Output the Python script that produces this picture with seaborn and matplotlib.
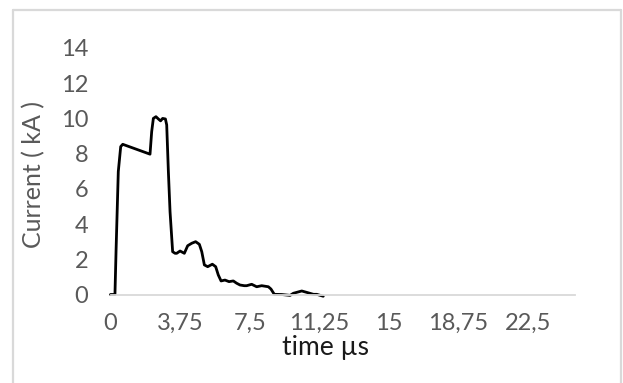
import matplotlib
matplotlib.use("Agg")
import matplotlib.pyplot as plt
from matplotlib.lines import Line2D
import numpy as np
import pandas as pd
import seaborn as sns

# Discharge current waveform (time in microseconds, current in kA)
time_us = [0.0, 0.24, 0.30, 0.42, 0.55, 0.66, 2.13, 2.22, 2.31, 2.45, 2.58,
           2.70, 2.81, 2.96, 3.03, 3.12, 3.21, 3.35, 3.48, 3.57, 3.75, 3.98,
           4.16, 4.38, 4.59, 4.79, 4.92, 5.06, 5.24, 5.49, 5.67, 5.81, 5.96,
           6.17, 6.39, 6.62, 6.80, 6.98, 7.21, 7.34, 7.61, 7.88, 8.15, 8.51,
           8.65, 8.83, 9.23, 9.68, 9.86, 10.31, 10.58, 10.94, 11.12, 11.47]
current_kA = [0.0, 0.0, 2.5, 6.98, 8.40, 8.53, 7.97, 9.25, 10.0, 10.1, 9.97,
              9.86, 10.0, 9.97, 9.63, 6.98, 4.70, 2.43, 2.34, 2.34, 2.47, 2.34,
              2.77, 2.91, 3.0, 2.85, 2.43, 1.68, 1.58, 1.72, 1.58, 1.11, 0.77,
              0.82, 0.73, 0.77, 0.64, 0.54, 0.50, 0.50, 0.58, 0.44, 0.50, 0.44,
              0.31, 0.01, 0.0, -0.05, 0.07, 0.20, 0.12, 0.01, 0.01, -0.10]

x_ticks = [0, 3.75, 7.5, 11.25, 15, 18.75, 22.5]
x_tick_labels = ["0", "3,75", "7,5", "11,25", "15", "18,75", "22,5"]
y_ticks = [0, 2, 4, 6, 8, 10, 12, 14]

sns.set_style("white")
plt.rcParams["font.family"] = ["Lato", "DejaVu Sans"]

W, H = 623, 383
fig = plt.figure(figsize=(W / 100, H / 100), dpi=100)
ax = fig.add_axes([110.5 / W, (H - 294.5) / H, (575 - 110.5) / W, (294.5 - 48) / H])

df = pd.DataFrame({"time": time_us, "current": current_kA})
sns.lineplot(data=df, x="time", y="current", ax=ax, color="black",
             linewidth=2.0, sort=False, estimator=None)
for ln in ax.lines:
    ln.set_clip_on(False)

ax.set_xlim(0, 25.04)
ax.set_ylim(0, 14)
ax.set_xticks(x_ticks)
ax.set_xticklabels(x_tick_labels)
ax.set_yticks(y_ticks)

grey = "#595959"
ax.tick_params(axis="both", length=0, labelsize=17, labelcolor=grey)
ax.tick_params(axis="y", pad=16)
ax.tick_params(axis="x", pad=13)

for side in ["top", "right", "left"]:
    ax.spines[side].set_visible(False)
ax.spines["bottom"].set_color("#d9d9d9")
ax.spines["bottom"].set_linewidth(1.3)

ax.set_xlabel("")
ax.set_ylabel("")
fig.text(325 / W, 1 - 347 / H, "time µs", ha="center", va="center",
         fontsize=19, color="#1a1a1a")
fig.text(34 / W, 1 - 174 / H, "Current ( kA )", ha="center", va="center",
         rotation=90, fontsize=18, color=grey)

# chart frame
frame_kw = dict(color="#d9d9d9", linewidth=1.6, transform=fig.transFigure)
fig.add_artist(Line2D([13 / W, 13 / W], [0, 1 - 10 / H], **frame_kw))
fig.add_artist(Line2D([13 / W, 621 / W], [1 - 10 / H, 1 - 10 / H], **frame_kw))
fig.add_artist(Line2D([621 / W, 621 / W], [0, 1 - 10 / H], **frame_kw))

fig.savefig("out.png", dpi=100, facecolor="white")
